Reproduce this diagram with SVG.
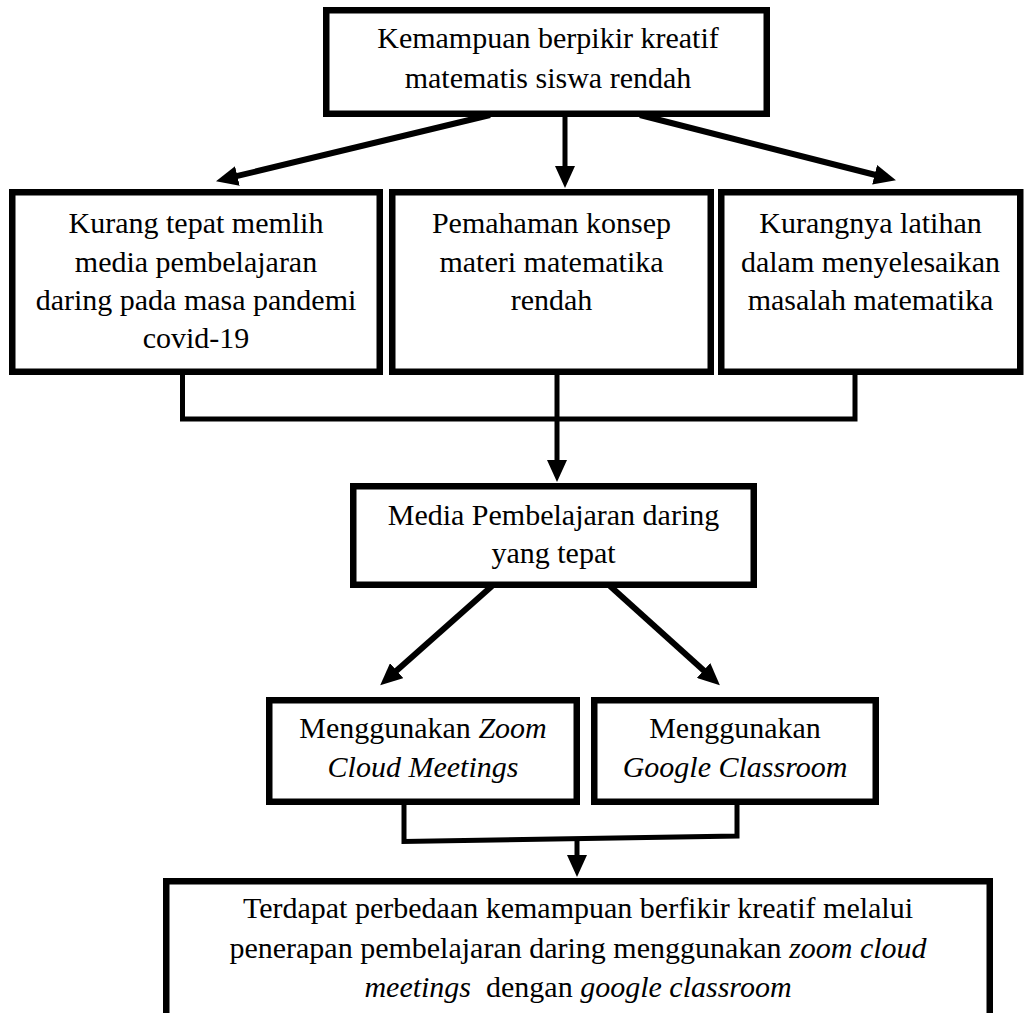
<svg xmlns="http://www.w3.org/2000/svg" width="1025" height="1013" viewBox="0 0 1025 1013">
<style>
.box{fill:#fff;stroke:#000;stroke-width:6.5}
.t{font-family:"Liberation Serif","Times New Roman",serif;font-size:30px;fill:#000;text-anchor:middle}
.i{font-style:italic}
.arr{fill:none;stroke:#000;stroke-width:6;marker-end:url(#ah)}
.arr2{fill:none;stroke:#000;stroke-width:5;marker-end:url(#ah)}
.con{fill:none;stroke:#000;stroke-width:5;stroke-linejoin:miter}
</style>
<defs>
<marker id="ah" viewBox="0 0 22 20" refX="1" refY="10" markerWidth="22" markerHeight="20" markerUnits="userSpaceOnUse" orient="auto">
<path d="M0,0 L22,10 L0,20 z" fill="#000"/>
</marker>
</defs>
<rect width="1025" height="1013" fill="#fff"/>
<g id="connectors">
<path class="arr" d="M490,115 L236.4,176.2"/>
<path class="arr2" d="M565,115 L565,167"/>
<path class="arr" d="M640,115 L875.6,175"/>
<path class="con" d="M182.5,373 V419 H855 V373"/>
<path class="arr2" d="M557,373 V461"/>
<path class="arr" d="M492,586 L395.9,671.3"/>
<path class="arr" d="M610,586 L704.3,671.1"/>
<path class="con" d="M404,803 V841.5 L737,836 V803"/>
<path class="arr2" d="M577,839 V856"/>
</g>
<g id="node-top">
<rect class="box" x="326.25" y="10.25" width="440.5" height="103.5"/>
<text class="t" x="548" y="48">Kemampuan berpikir kreatif</text>
<text class="t" x="548" y="88">matematis siswa rendah</text>
</g>
<g id="node-media-kurang">
<rect class="box" x="12.25" y="192.25" width="367.5" height="179.5"/>
<text class="t" x="196" y="233">Kurang tepat memlih</text>
<text class="t" x="196" y="272">media pembelajaran</text>
<text class="t" x="196" y="310">daring pada masa pandemi</text>
<text class="t" x="196" y="348">covid-19</text>
</g>
<g id="node-pemahaman">
<rect class="box" x="392.25" y="192.25" width="318.5" height="179.5"/>
<text class="t" x="551.5" y="233">Pemahaman konsep</text>
<text class="t" x="551.5" y="272">materi matematika</text>
<text class="t" x="551.5" y="310">rendah</text>
</g>
<g id="node-latihan">
<rect class="box" x="721.25" y="192.25" width="299" height="179.5"/>
<text class="t" x="870.5" y="233">Kurangnya latihan</text>
<text class="t" x="870.5" y="272">dalam menyelesaikan</text>
<text class="t" x="870.5" y="310">masalah matematika</text>
</g>
<g id="node-media-tepat">
<rect class="box" x="353.25" y="486.25" width="400.5" height="98.5"/>
<text class="t" x="553.5" y="525">Media Pembelajaran daring</text>
<text class="t" x="553.5" y="563">yang tepat</text>
</g>
<g id="node-zoom">
<rect class="box" x="269.25" y="700.25" width="307.5" height="101.5"/>
<text class="t" x="423" y="738">Menggunakan <tspan class="i">Zoom</tspan></text>
<text class="t i" x="423" y="777">Cloud Meetings</text>
</g>
<g id="node-google">
<rect class="box" x="594.25" y="700.25" width="281.5" height="101.5"/>
<text class="t" x="735" y="738">Menggunakan</text>
<text class="t i" x="735" y="777">Google Classroom</text>
</g>
<g id="node-result">
<rect class="box" x="166.25" y="881.25" width="823.5" height="140"/>
<text class="t" x="578" y="918">Terdapat perbedaan kemampuan berfikir kreatif melalui</text>
<text class="t" x="578" y="958">penerapan pembelajaran daring menggunakan <tspan class="i">zoom cloud</tspan></text>
<text class="t" x="578" y="997"><tspan class="i">meetings</tspan>&#160; dengan <tspan class="i">google classroom</tspan></text>
</g>
</svg>
